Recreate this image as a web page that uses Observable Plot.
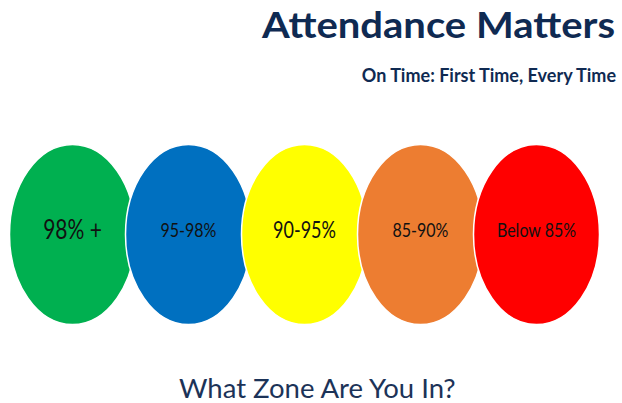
<!DOCTYPE html>
<html>
<head>
<meta charset="utf-8">
<script src="https://cdn.jsdelivr.net/npm/d3@7"></script>
<script src="https://cdn.jsdelivr.net/npm/@observablehq/plot@0.6"></script>
<style>
  html, body { margin: 0; padding: 0; background: #fff; }
  body { width: 622px; height: 403px; overflow: hidden; position: relative; font-family: Lato, "Open Sans", sans-serif; }
  .t { position: absolute; margin: 0; line-height: 1; white-space: nowrap; }
  #title { right: 7px; top: 2px; font-size: 40px; font-weight: 700; color: #0f2a52; transform: scaleY(0.9); transform-origin: right bottom; }
  #subtitle { right: 6px; top: 66px; font-size: 18px; font-weight: 700; color: #0f2a52; }
  #caption { left: 179px; top: 374px; font-size: 27.5px; font-weight: 400; color: #1c3358; }
  #chart { position: absolute; left: 0; top: 92px; }
</style>
</head>
<body>
<h1 class="t" id="title">Attendance Matters</h1>
<div class="t" id="subtitle">On Time: First Time, Every Time</div>
<div id="chart"></div>
<div class="t" id="caption">What Zone Are You In?</div>
<script>
// Attendance zones (categories) and their colours
const zones = ["98% +", "95-98%", "90-95%", "85-90%", "Below 85%"];
const zoneColors = ["#00b050", "#0070c0", "#ffff00", "#ed7d31", "#ff0000"];

// label font sizes (style)
const labelFontSize = {"98% +": 21, "95-98%": 16, "90-95%": 18, "85-90%": 16, "Below 85%": 16};

// custom ellipse symbol (taller than wide)
const ellipse = {
  draw(context, size) {
    const rx = Math.sqrt(size / Math.PI), ry = rx * 1.43, k = 0.5522847498;
    context.moveTo(rx, 0);
    context.bezierCurveTo(rx, ry * k, rx * k, ry, 0, ry);
    context.bezierCurveTo(-rx * k, ry, -rx, ry * k, -rx, 0);
    context.bezierCurveTo(-rx, -ry * k, -rx * k, -ry, 0, -ry);
    context.bezierCurveTo(rx * k, -ry, rx, -ry * k, rx, 0);
    context.closePath();
  }
};

const svg = Plot.plot({
  width: 622,
  height: 268,
  marginLeft: 13,
  marginRight: 28,
  marginTop: 16,
  marginBottom: 0,
  x: {type: "point", domain: zones, padding: 0.5, axis: null},
  color: {type: "ordinal", domain: zones, range: zoneColors},
  marks: [
    Plot.dot(zones, {x: d => d, fill: d => d, r: 63, symbol: ellipse, stroke: "white", strokeWidth: 1.5, fillOpacity: 1}),
    Plot.text(zones, {x: d => d, text: d => d, fontSize: d => labelFontSize[d], fill: "#111", fontFamily: "Lato, 'Open Sans', sans-serif", dy: -4})
  ]
});
svg.style.background = "transparent";
document.getElementById("chart").appendChild(svg);
d3.select(svg).selectAll('g[aria-label="text"] text').attr("transform", function() {
  return (this.getAttribute("transform") || "") + " scale(1,1.25)";
});
</script>
</body>
</html>
